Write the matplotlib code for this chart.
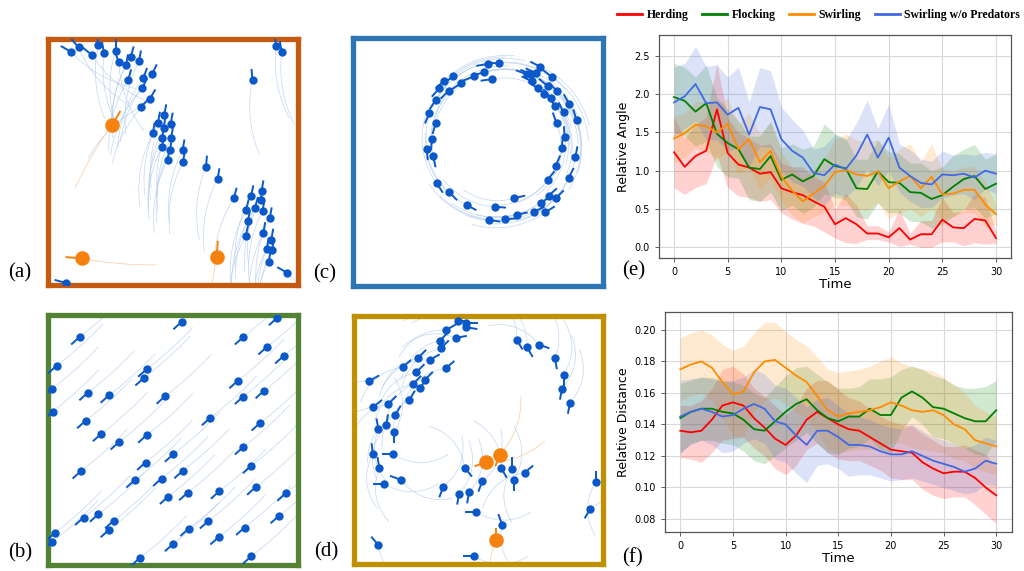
import numpy as np
import matplotlib.pyplot as plt
from matplotlib.collections import LineCollection
from matplotlib.lines import Line2D

# ---------------- line-plot data (panels e, f) ----------------
time = np.arange(31)
series_names = ['Herding', 'Flocking', 'Swirling', 'Swirling w/o Predators']
series_colors = ['#ff0000', '#008000', '#ff8c00', '#4169e1']

angle_herding = [1.24, 1.05, 1.19, 1.26, 1.80, 1.23, 1.08, 1.04, 0.96, 0.98, 0.77, 0.72, 0.68, 0.60, 0.53, 0.30,
                 0.38, 0.30, 0.18, 0.18, 0.13, 0.25, 0.10, 0.17, 0.17, 0.36, 0.26, 0.25, 0.37, 0.35, 0.12]
angle_herding_lo = [0.78, 0.69, 0.78, 0.83, 1.20, 0.78, 0.67, 0.65, 0.60, 0.62, 0.45, 0.37, 0.31, 0.28, 0.20, 0.12,
                    0.06, 0.05, 0.10, 0.10, 0.07, 0.01, 0.04, 0.00, 0.00, 0.07, 0.07, 0.02, 0.06, 0.04, 0.05]
angle_herding_hi = [1.70, 1.42, 1.60, 1.70, 2.40, 1.68, 1.50, 1.42, 1.33, 1.35, 1.10, 1.05, 1.05, 0.92, 0.85, 0.50,
                    0.70, 0.55, 0.28, 0.28, 0.20, 0.50, 0.18, 0.35, 0.35, 0.65, 0.45, 0.48, 0.70, 0.65, 0.20]

angle_flocking = [1.96, 1.91, 1.77, 1.88, 1.48, 1.36, 1.28, 1.04, 1.02, 1.19, 0.88, 0.95, 0.86, 0.93, 1.15, 1.06,
                  1.03, 0.77, 0.76, 0.99, 0.85, 0.84, 0.72, 0.71, 0.63, 0.68, 0.79, 0.89, 0.93, 0.76, 0.83]
angle_flocking_lo = [1.50, 1.45, 1.32, 1.38, 1.05, 0.92, 0.90, 0.62, 0.60, 0.72, 0.48, 0.55, 0.44, 0.52, 0.70, 0.65,
                     0.62, 0.40, 0.37, 0.58, 0.45, 0.45, 0.34, 0.33, 0.25, 0.30, 0.40, 0.50, 0.52, 0.38, 0.44]
angle_flocking_hi = [2.40, 2.35, 2.22, 2.38, 1.95, 1.80, 1.65, 1.45, 1.45, 1.65, 1.30, 1.35, 1.28, 1.32, 1.61, 1.48,
                     1.42, 1.15, 1.15, 1.40, 1.25, 1.22, 1.10, 1.10, 1.00, 1.05, 1.20, 1.28, 1.34, 1.15, 1.22]

angle_swirling = [1.42, 1.49, 1.60, 1.58, 1.50, 1.61, 1.28, 1.41, 1.11, 1.26, 0.92, 0.74, 0.60, 0.70, 0.80, 0.98,
                  1.01, 0.95, 0.93, 0.99, 0.77, 0.86, 0.93, 0.77, 0.92, 0.69, 0.70, 0.75, 0.75, 0.56, 0.43]
angle_swirling_lo = [1.10, 1.18, 1.30, 1.25, 1.15, 1.25, 0.95, 1.05, 0.75, 0.90, 0.60, 0.42, 0.32, 0.40, 0.45, 0.55,
                     0.55, 0.50, 0.48, 0.58, 0.37, 0.45, 0.50, 0.40, 0.50, 0.35, 0.40, 0.45, 0.45, 0.27, 0.30]
angle_swirling_hi = [1.72, 1.75, 1.90, 1.90, 1.85, 1.95, 1.62, 1.75, 1.48, 1.62, 1.25, 1.05, 0.90, 1.02, 1.15, 1.40,
                     1.48, 1.40, 1.38, 1.40, 1.17, 1.28, 1.35, 1.12, 1.35, 1.02, 1.00, 1.05, 1.05, 0.85, 0.55]

angle_nopred = [1.89, 1.97, 2.13, 1.88, 1.89, 1.73, 1.82, 1.47, 1.83, 1.80, 1.41, 1.26, 1.17, 0.97, 0.94, 1.08,
                1.02, 1.20, 1.47, 1.17, 1.43, 1.04, 0.93, 0.84, 0.82, 0.95, 0.94, 0.96, 0.91, 1.00, 0.96]
angle_nopred_lo = [1.45, 1.55, 1.65, 1.40, 1.40, 1.25, 1.30, 1.05, 1.32, 1.30, 1.00, 0.85, 0.80, 0.65, 0.55, 0.70,
                   0.65, 0.78, 1.02, 0.80, 1.00, 0.72, 0.60, 0.52, 0.52, 0.64, 0.68, 0.70, 0.62, 0.76, 0.70]
angle_nopred_hi = [2.35, 2.40, 2.62, 2.36, 2.38, 2.22, 2.35, 1.90, 2.35, 2.30, 1.83, 1.67, 1.53, 1.28, 1.32, 1.47,
                   1.40, 1.62, 1.92, 1.55, 1.87, 1.35, 1.27, 1.15, 1.12, 1.26, 1.20, 1.22, 1.20, 1.24, 1.22]

dist_herding = [0.136, 0.135, 0.136, 0.143, 0.152, 0.154, 0.152, 0.144, 0.138, 0.131, 0.127, 0.133, 0.143, 0.148,
                0.144, 0.140, 0.137, 0.136, 0.132, 0.128, 0.124, 0.123, 0.122, 0.116, 0.112, 0.109, 0.110, 0.110,
                0.106, 0.100, 0.095]
dist_herding_lo = [0.119, 0.118, 0.116, 0.122, 0.130, 0.131, 0.132, 0.125, 0.120, 0.112, 0.108, 0.114, 0.124, 0.128,
                   0.122, 0.118, 0.117, 0.117, 0.114, 0.111, 0.106, 0.105, 0.105, 0.099, 0.095, 0.093, 0.094, 0.094,
                   0.089, 0.083, 0.077]
dist_herding_hi = [0.152, 0.152, 0.155, 0.163, 0.175, 0.177, 0.172, 0.163, 0.158, 0.152, 0.146, 0.152, 0.163, 0.168,
                   0.168, 0.162, 0.157, 0.155, 0.150, 0.145, 0.142, 0.140, 0.139, 0.134, 0.130, 0.126, 0.126, 0.127,
                   0.124, 0.121, 0.113]

dist_flocking = [0.144, 0.148, 0.150, 0.150, 0.148, 0.147, 0.143, 0.137, 0.136, 0.142, 0.148, 0.153, 0.156, 0.149,
                 0.144, 0.142, 0.145, 0.145, 0.150, 0.146, 0.146, 0.157, 0.161, 0.157, 0.151, 0.150, 0.147, 0.144,
                 0.142, 0.142, 0.149]
dist_flocking_lo = [0.122, 0.128, 0.130, 0.130, 0.128, 0.127, 0.123, 0.117, 0.115, 0.120, 0.125, 0.130, 0.135, 0.128,
                    0.122, 0.121, 0.125, 0.126, 0.131, 0.124, 0.122, 0.136, 0.145, 0.140, 0.132, 0.131, 0.128, 0.125,
                    0.121, 0.120, 0.130]
dist_flocking_hi = [0.166, 0.168, 0.170, 0.170, 0.168, 0.167, 0.165, 0.160, 0.157, 0.164, 0.171, 0.176, 0.177, 0.172,
                    0.167, 0.163, 0.163, 0.164, 0.169, 0.169, 0.170, 0.175, 0.177, 0.175, 0.171, 0.169, 0.165, 0.163,
                    0.163, 0.164, 0.168]

dist_swirling = [0.175, 0.178, 0.180, 0.176, 0.167, 0.159, 0.161, 0.173, 0.180, 0.181, 0.176, 0.171, 0.167, 0.158,
                 0.149, 0.145, 0.147, 0.148, 0.149, 0.151, 0.154, 0.152, 0.149, 0.148, 0.149, 0.146, 0.140, 0.137,
                 0.130, 0.128, 0.126]
dist_swirling_lo = [0.155, 0.158, 0.160, 0.155, 0.144, 0.133, 0.132, 0.148, 0.155, 0.157, 0.153, 0.148, 0.144, 0.135,
                    0.125, 0.122, 0.123, 0.124, 0.124, 0.125, 0.128, 0.128, 0.125, 0.124, 0.123, 0.122, 0.118, 0.117,
                    0.112, 0.110, 0.108]
dist_swirling_hi = [0.195, 0.198, 0.200, 0.197, 0.191, 0.187, 0.190, 0.198, 0.205, 0.205, 0.199, 0.194, 0.190, 0.183,
                    0.175, 0.173, 0.174, 0.175, 0.177, 0.180, 0.183, 0.179, 0.177, 0.175, 0.174, 0.170, 0.165, 0.160,
                    0.152, 0.148, 0.145]

dist_nopred = [0.145, 0.148, 0.150, 0.148, 0.145, 0.146, 0.150, 0.153, 0.150, 0.142, 0.140, 0.133, 0.127, 0.136,
               0.136, 0.132, 0.127, 0.127, 0.126, 0.123, 0.121, 0.121, 0.123, 0.120, 0.117, 0.115, 0.113, 0.110,
               0.112, 0.117, 0.115]
dist_nopred_lo = [0.122, 0.127, 0.130, 0.127, 0.122, 0.123, 0.128, 0.131, 0.128, 0.118, 0.116, 0.109, 0.103, 0.114,
                  0.115, 0.112, 0.107, 0.108, 0.108, 0.106, 0.104, 0.105, 0.106, 0.104, 0.102, 0.100, 0.098, 0.096,
                  0.097, 0.102, 0.101]
dist_nopred_hi = [0.168, 0.169, 0.170, 0.169, 0.167, 0.168, 0.170, 0.175, 0.172, 0.165, 0.163, 0.157, 0.151, 0.156,
                  0.157, 0.152, 0.147, 0.145, 0.143, 0.140, 0.138, 0.137, 0.140, 0.136, 0.132, 0.130, 0.128, 0.125,
                  0.127, 0.132, 0.130]

# ---------------- swarm snapshots (panels a-d), coordinates in box fraction ----------------
herd_x = [0.092, 0.124, 0.176, 0.203, 0.226, 0.272, 0.285, 0.314, 0.333, 0.366, 0.323, 0.383, 0.418, 0.379, 0.409,
          0.373, 0.467, 0.442, 0.493, 0.464, 0.421, 0.458, 0.494, 0.458, 0.490, 0.540, 0.480, 0.542, 0.634, 0.680,
          0.745, 0.814, 0.856, 0.852, 0.830, 0.795, 0.860, 0.889, 0.801, 0.863, 0.793, 0.895, 0.877, 0.898, 0.885,
          0.958, 0.072, 0.915, 0.937, 0.820]
herd_y = [0.947, 0.964, 0.934, 0.973, 0.941, 0.951, 0.904, 0.891, 0.924, 0.907, 0.831, 0.838, 0.854, 0.798, 0.754,
          0.722, 0.688, 0.658, 0.654, 0.636, 0.614, 0.594, 0.594, 0.559, 0.548, 0.545, 0.505, 0.499, 0.479, 0.428,
          0.350, 0.359, 0.379, 0.343, 0.312, 0.302, 0.299, 0.269, 0.257, 0.209, 0.197, 0.182, 0.146, 0.142, 0.093,
          0.048, 0.007, 0.971, 0.944, 0.831]
herd_heading = [150, 130, 140, 95, 100, 90, 110, 80, 75, 80, 75, 70, 65, 65, 60, 45,
                80, 80, 80, 80, 80, 80, 80, 80, 80, 80, 80, 80, 85, 80,
                75, 78, 80, 78, 75, 78, 80, 80, 78, 80, 78, 80, 80, 80, 80,
                150, 165, 100, 100, 95]
herd_pred_x = [0.259, 0.137, 0.676]
herd_pred_y = [0.649, 0.106, 0.113]
herd_pred_heading = [60, 175, 85]

flock_x = [0.537, 0.128, 0.783, 0.919, 0.877, 0.944, 0.036, 0.396, 0.385, 0.761, 0.017, 0.161, 0.246, 0.470, 0.783,
           0.866, 0.020, 0.152, 0.651, 0.850, 0.215, 0.396, 0.286, 0.783, 0.503, 0.392, 0.815, 0.134, 0.541, 0.456,
           0.349, 0.832, 0.483, 0.560, 0.687, 0.953, 0.144, 0.203, 0.264, 0.926, 0.246, 0.643, 0.565, 0.788, 0.031,
           0.017, 0.685, 0.503, 0.369, 0.815]
flock_y = [0.971, 0.910, 0.910, 0.987, 0.870, 0.834, 0.795, 0.781, 0.746, 0.735, 0.702, 0.687, 0.677, 0.673, 0.672,
           0.695, 0.612, 0.575, 0.587, 0.566, 0.523, 0.517, 0.490, 0.470, 0.441, 0.408, 0.395, 0.374, 0.375, 0.344,
           0.338, 0.309, 0.272, 0.287, 0.293, 0.285, 0.188, 0.201, 0.175, 0.195, 0.139, 0.174, 0.144, 0.148, 0.128,
           0.089, 0.110, 0.083, 0.026, 0.033]
flock_heading = [222] * len(flock_x)

swirl_x = [0.540, 0.587, 0.713, 0.751, 0.403, 0.367, 0.484, 0.527, 0.557, 0.433, 0.347, 0.384, 0.696, 0.733, 0.717,
           0.797, 0.740, 0.780, 0.817, 0.767, 0.793, 0.333, 0.811, 0.867, 0.307, 0.844, 0.896, 0.333, 0.816, 0.849,
           0.317, 0.837, 0.297, 0.323, 0.891, 0.813, 0.864, 0.780, 0.337, 0.387, 0.784, 0.813, 0.647, 0.456, 0.569,
           0.753, 0.727, 0.771, 0.657, 0.609, 0.547]
swirl_y = [0.893, 0.897, 0.852, 0.882, 0.843, 0.826, 0.843, 0.859, 0.832, 0.815, 0.795, 0.785, 0.852, 0.856, 0.823,
           0.842, 0.796, 0.805, 0.785, 0.772, 0.758, 0.748, 0.722, 0.732, 0.695, 0.698, 0.667, 0.654, 0.655, 0.597,
           0.591, 0.554, 0.550, 0.521, 0.517, 0.483, 0.434, 0.426, 0.412, 0.376, 0.362, 0.352, 0.352, 0.325, 0.318,
           0.333, 0.298, 0.295, 0.285, 0.268, 0.264]
swirl_center = (0.593, 0.577)

mixed_x = [0.420, 0.453, 0.453, 0.373, 0.347, 0.411, 0.351, 0.656, 0.697, 0.744, 0.260, 0.307, 0.197, 0.371, 0.253,
           0.809, 0.844, 0.287, 0.240, 0.269, 0.837, 0.064, 0.224, 0.869, 0.080, 0.140, 0.167, 0.131, 0.100, 0.164,
           0.077, 0.160, 0.104, 0.189, 0.123, 0.447, 0.517, 0.360, 0.424, 0.464, 0.593, 0.637, 0.687, 0.643, 0.493,
           0.973, 0.951, 0.597, 0.100, 0.483]
mixed_y = [0.977, 0.969, 0.953, 0.942, 0.899, 0.910, 0.868, 0.902, 0.872, 0.883, 0.830, 0.821, 0.792, 0.788, 0.772,
           0.828, 0.761, 0.741, 0.725, 0.707, 0.705, 0.736, 0.658, 0.648, 0.631, 0.644, 0.597, 0.557, 0.541, 0.530,
           0.440, 0.440, 0.385, 0.338, 0.322, 0.385, 0.332, 0.309, 0.282, 0.287, 0.385, 0.383, 0.366, 0.336, 0.208,
           0.329, 0.221, 0.157, 0.074, 0.030]
mixed_heading = [0, 0, -10, 30, 45, 10, 45, -60, -60, -20, 45, 30, 40, 40, 45, -80, -90, 45, 45, 60, -100, 30, 60,
                 -100, 40, 45, 60, 80, 100, -90, 95, 180, 100, 160, 180, -50, -110, -110, -100, -100, -60, 90, 40,
                 -90, 180, 90, -120, 110, 130, 180]
mixed_pred_x = [0.533, 0.587, 0.571]
mixed_pred_y = [0.409, 0.439, 0.094]
mixed_pred_heading = [200, 250, 90]

AGENT = '#0a58c9'
PRED = '#f5820f'
TRAIL = '#a9c5ec'
PRED_TRAIL = '#f9d2ae'


def trails_bezier(xs, ys, heads, length, bend):
    segs = []
    t = np.linspace(0, 1, 20)[:, None]
    for x, y, h in zip(xs, ys, heads):
        d = np.array([np.cos(np.radians(h)), np.sin(np.radians(h))])
        p0 = np.array([x, y])
        p2 = p0 - length * d
        perp = np.array([-d[1], d[0]])
        p1 = (p0 + p2) / 2 + bend * length * perp
        pts = (1 - t) ** 2 * p0 + 2 * (1 - t) * t * p1 + t ** 2 * p2
        segs.append(pts)
    return segs


def draw_agents(ax, xs, ys, heads, color, size, stick):
    for x, y, h in zip(xs, ys, heads):
        ax.plot([x, x + stick * np.cos(np.radians(h))], [y, y + stick * np.sin(np.radians(h))],
                color=color, lw=1.4, solid_capstyle='butt', zorder=3)
    ax.scatter(xs, ys, s=size, color=color, zorder=4, linewidths=0)


def setup_box(rect, edge, label):
    ax = fig.add_axes(rect)
    ax.set_xlim(0, 1)
    ax.set_ylim(0, 1)
    ax.set_xticks([])
    ax.set_yticks([])
    for sp in ax.spines.values():
        sp.set_color(edge)
        sp.set_linewidth(3.8)
    fig.text(rect[0] - 0.027, rect[1] + 0.003, label, fontsize=15, family='Liberation Serif',
             ha='center', va='bottom')
    return ax


W, H = 1024, 571
fig = plt.figure(figsize=(W / 100, H / 100), dpi=100)


def px_rect(x0, y0, x1, y1):
    return [x0 / W, 1 - y1 / H, (x1 - x0) / W, (y1 - y0) / H]


# (a) herding
ax_a = setup_box(px_rect(47.5, 38.5, 297.5, 284.5), '#c55a11', '(a)')
ax_a.add_collection(LineCollection(trails_bezier(herd_x, herd_y, herd_heading, 0.3, 0.15),
                                   colors=TRAIL, linewidths=0.5, alpha=0.7, zorder=1))
ax_a.add_collection(LineCollection(trails_bezier(herd_pred_x, herd_pred_y, herd_pred_heading, 0.3, 0.05),
                                   colors=PRED_TRAIL, linewidths=0.6, zorder=1))
draw_agents(ax_a, herd_x, herd_y, herd_heading, AGENT, 36, 0.045)
draw_agents(ax_a, herd_pred_x, herd_pred_y, herd_pred_heading, PRED, 110, 0.065)

# (c) swirling
ax_c = setup_box(px_rect(352.5, 37.5, 602.5, 285.5), '#2e75b6', '(c)')
cx, cy = swirl_center
swirl_heading = []
arcs = []
for x, y in zip(swirl_x, swirl_y):
    th = np.arctan2(y - cy, x - cx)
    r = np.hypot(x - cx, y - cy)
    swirl_heading.append(np.degrees(th) + 90)
    ths = np.linspace(th, th - 0.9, 25)
    rs = np.linspace(r, r * 1.05, 25)
    arcs.append(np.column_stack([cx + rs * np.cos(ths), cy + rs * np.sin(ths)]))
ax_c.add_collection(LineCollection(arcs, colors=TRAIL, linewidths=0.5, alpha=0.7, zorder=1))
draw_agents(ax_c, swirl_x, swirl_y, swirl_heading, AGENT, 36, 0.045)

# (b) flocking
ax_b = setup_box(px_rect(47.5, 314.5, 297.5, 564.5), '#548235', '(b)')
ax_b.add_collection(LineCollection(trails_bezier(flock_x, flock_y, flock_heading, 0.25, 0.04),
                                   colors=TRAIL, linewidths=0.5, alpha=0.7, zorder=1))
draw_agents(ax_b, flock_x, flock_y, flock_heading, AGENT, 36, 0.045)

# (d) swirling with predators
ax_d = setup_box(px_rect(353.5, 315.5, 602.5, 563.5), '#bf9000', '(d)')
ax_d.add_collection(LineCollection(trails_bezier(mixed_x, mixed_y, mixed_heading, 0.22, 0.3),
                                   colors=TRAIL, linewidths=0.5, alpha=0.7, zorder=1))
ax_d.add_collection(LineCollection(trails_bezier(mixed_pred_x, mixed_pred_y, mixed_pred_heading, 0.25, 0.2),
                                   colors=PRED_TRAIL, linewidths=0.6, zorder=1))
draw_agents(ax_d, mixed_x, mixed_y, mixed_heading, AGENT, 36, 0.045)
draw_agents(ax_d, mixed_pred_x, mixed_pred_y, mixed_pred_heading, PRED, 110, 0.05)


# ---------------- line plots ----------------
def line_panel(rect, means, lows, highs, ylabel, yticks, label, label_y):
    ax = fig.add_axes(rect)
    for m, lo, hi, c in zip(means, lows, highs, series_colors):
        ax.fill_between(time, lo, hi, color=c, alpha=0.18, linewidth=0)
        ax.plot(time, m, color=c, lw=1.3)
    ax.set_xticks([0, 5, 10, 15, 20, 25, 30])
    ax.set_yticks(yticks)
    ax.tick_params(labelsize=7, length=3, width=0.6, color='#444444')
    ax.grid(True, color='#d9d9d9', lw=0.8)
    ax.set_axisbelow(True)
    for sp in ax.spines.values():
        sp.set_color('#555555')
        sp.set_linewidth(0.9)
    ax.set_xlabel('Time', fontsize=9.5, labelpad=1)
    ax.set_ylabel(ylabel, fontsize=9, labelpad=3)
    fig.text(622 / W, 1 - label_y / H, label, fontsize=15, family='Liberation Serif',
             ha='left', va='center')
    return ax


ax_e = line_panel(px_rect(659, 35, 1011, 258),
                  [angle_herding, angle_flocking, angle_swirling, angle_nopred],
                  [angle_herding_lo, angle_flocking_lo, angle_swirling_lo, angle_nopred_lo],
                  [angle_herding_hi, angle_flocking_hi, angle_swirling_hi, angle_nopred_hi],
                  'Relative Angle', [0.0, 0.5, 1.0, 1.5, 2.0, 2.5], '(e)', 271)
ax_e.set_ylim(-0.14, 2.77)
ax_e.set_xlim(-1.4, 31.4)
ax_e.set_yticklabels(['0.0', '0.5', '1.0', '1.5', '2.0', '2.5'])

ax_f = line_panel(px_rect(665, 312, 1012, 532),
                  [dist_herding, dist_flocking, dist_swirling, dist_nopred],
                  [dist_herding_lo, dist_flocking_lo, dist_swirling_lo, dist_nopred_lo],
                  [dist_herding_hi, dist_flocking_hi, dist_swirling_hi, dist_nopred_hi],
                  'Relative Distance', [0.08, 0.10, 0.12, 0.14, 0.16, 0.18, 0.20], '(f)', 558)
ax_f.set_ylim(0.0717, 0.2114)
ax_f.set_xlim(-1.45, 31.5)
ax_f.set_yticklabels(['0.08', '0.10', '0.12', '0.14', '0.16', '0.18', '0.20'])

handles = [Line2D([0], [0], color=c, lw=2) for c in series_colors]
fig.legend(handles, series_names, loc='center', bbox_to_anchor=(818.5 / W, 1 - 15 / H), ncol=4,
           frameon=False, handlelength=2.1, handletextpad=0.4, columnspacing=1.15,
           prop={'family': 'Liberation Serif', 'weight': 'bold', 'size': 8.5})

fig.savefig('out.png', dpi=100)
